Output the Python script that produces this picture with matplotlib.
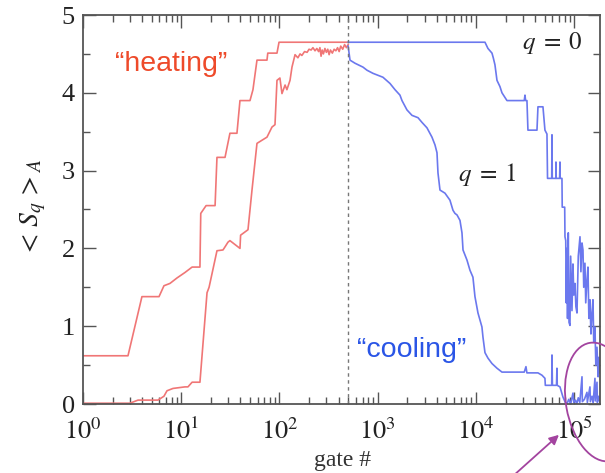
import matplotlib
matplotlib.use("Agg")
import matplotlib.pyplot as plt
from matplotlib.patches import Ellipse, FancyArrowPatch
from matplotlib.ticker import FixedLocator, NullFormatter

plt.rcParams["mathtext.fontset"] = "stix"
plt.rcParams["font.family"] = ["Liberation Serif", "DejaVu Serif"]

# ---- heating, q = 0 (gate #, <S>) ----
heat_q0_gate = [1, 2.87, 3.98, 5.94, 6.67, 7.68, 9.05, 10.9, 12.9, 15.5, 15.8,
                17.9, 22.1, 23.1, 27.9, 31.3, 36.9, 39.6, 50.1, 53.7, 59.0,
                74.6, 76.0, 94.3, 98.9, 500]
heat_q0_S = [0.62, 0.62, 1.38, 1.38, 1.52, 1.55, 1.62, 1.69, 1.76, 1.76, 2.45,
             2.55, 2.55, 3.17, 3.17, 3.48, 3.48, 3.90, 3.90, 4.04, 4.42,
             4.42, 4.51, 4.51, 4.65, 4.65]

# ---- heating, q = 1 ----
heat_q1_gate = [1, 3.0, 3.63, 5.8, 6.67, 7.16, 8.24, 10.9, 11.7, 12.9, 15.5,
                18.3, 19.2, 23.1, 26.6, 27.9, 29.9, 31.3, 33.6, 39.6, 40.2,
                47.8, 52.5, 59.0, 66.3, 74.6, 83.9, 90.0, 94.3, 101, 106,
                114, 119, 128, 134, 144, 154, 162, 169, 180, 191, 200, 210,
                219, 230, 240, 250, 258, 265, 272, 280, 290, 300, 310, 320,
                330, 345, 360, 375, 390, 405, 420, 440, 460, 480, 500]
heat_q1_S = [0.01, 0.01, 0.05, 0.05, 0.10, 0.17, 0.20, 0.22, 0.22, 0.28, 0.28,
             1.43, 1.50, 1.97, 1.98, 2.02, 2.08, 2.10, 2.07, 2.00, 2.17,
             2.24, 2.75, 3.35, 3.39, 3.43, 3.56, 3.59, 4.16, 4.19, 3.99,
             4.10, 4.04, 4.16, 4.33, 4.49, 4.45, 4.50, 4.48, 4.53, 4.52, 4.56,
             4.55, 4.58, 4.54, 4.57, 4.53, 4.58, 4.47, 4.55, 4.50, 4.57, 4.52,
             4.56, 4.49, 4.55, 4.51, 4.56, 4.54, 4.58, 4.53, 4.60, 4.56, 4.62,
             4.58, 4.62]

# ---- cooling, q = 0 ----
cool_q0_gate = [500, 12350, 13240, 14550, 15000, 15600, 16360, 17540, 18390,
                20680, 31000, 31530, 32000, 33030, 33800, 41780, 42750, 48070,
                50360, 52790, 53500, 59000, 59380, 59800, 65000, 65190, 65600,
                71000, 71600, 72000, 75030, 75500, 80000, 80520, 82000, 83000,
                84370, 85500, 87000, 88500, 90540, 92000, 94870, 97100, 99000,
                101800, 104000, 106700, 110000, 114500, 117000, 120000, 122800,
                125000, 128600, 131000, 134800, 138000, 141000, 144600, 148000,
                151700, 155200, 158000, 162600, 166000, 170500, 175000, 178000,
                182800]
cool_q0_S = [4.65, 4.65, 4.57, 4.51, 4.45, 4.36, 4.16, 4.08, 4.00,
             3.90, 3.90, 3.97, 3.90, 3.90, 3.52, 3.52, 3.82, 3.82,
             3.52, 3.47, 2.90, 2.90, 3.46, 2.90, 2.90, 3.11, 2.90,
             2.90, 3.11, 2.90, 2.90, 2.53, 2.53, 2.15, 2.10, 1.30,
             2.00, 1.10, 2.20, 1.05, 1.01, 1.90, 1.20, 1.80, 1.40,
             1.55, 1.25, 1.17, 1.90, 2.15, 1.70, 2.07, 1.98,
             1.50, 1.81, 1.30, 1.59, 1.76, 1.10, 1.34, 0.90,
             1.17, 1.34, 0.80, 0.99, 0.50, 0.73, 0.35, 0.60,
             0.40]

# ---- cooling, q = 1 ----
cool_q1_gate = [500, 522, 587, 708, 778, 895, 1130, 1333, 1499, 1684, 1766,
                1984, 2232, 2570, 2820, 3170, 3565, 3827, 4010, 4105, 4302,
                4835, 5433, 5834, 6109, 6412, 6873, 7203, 7380, 8098, 8683,
                9313, 9766, 10480, 11500, 11780, 12350, 13240, 14550, 16360,
                18390, 31000, 32270, 33000, 42750, 46970, 50360, 50800, 59000,
                59380, 60000, 66000, 66700, 67200, 71600, 76780, 80520, 84000,
                88000, 92000, 97100, 99000, 103000, 106000, 110000, 114000,
                120000, 121000, 127000, 134800, 136000, 144600, 146000, 151700,
                156000, 162600, 164000, 170500, 172000, 178000, 182800]
cool_q1_S = [4.60, 4.42, 4.38, 4.33, 4.29, 4.25, 4.20, 4.12, 4.04, 3.97, 3.90,
             3.78, 3.71, 3.68, 3.62, 3.55, 3.43, 3.33, 3.23, 2.97, 2.75,
             2.71, 2.62, 2.49, 2.45, 2.43, 2.36, 2.20, 1.98, 1.85, 1.72,
             1.63, 1.38, 1.17, 0.99, 0.86, 0.66, 0.59, 0.52, 0.46,
             0.41, 0.41, 0.48, 0.40, 0.40, 0.37, 0.33, 0.24, 0.24,
             0.63, 0.24, 0.24, 0.46, 0.24, 0.22, 0.09, 0.03, 0.00,
             0.06, 0.00, 0.14, 0.02, 0.05, 0.00, 0.08, 0.02,
             0.35, 0.03, 0.06, 0.15, 0.02, 0.22, 0.03, 0.10,
             0.02, 0.33, 0.04, 0.28, 0.02, 0.10, 0.02]

switch_gate = 500
x_decades = [1, 10, 100, 1000, 10000, 100000]
x_labels = [r"$10^{0}$", r"$10^{1}$", r"$10^{2}$", r"$10^{3}$", r"$10^{4}$", r"$10^{5}$"]
y_ticks = [0, 1, 2, 3, 4, 5]

RED = "#f07676"
BLUE = "#6b78ee"
PURPLE = "#a3449f"

W, H = 605, 473
fig = plt.figure(figsize=(W / 100, H / 100), dpi=100)
ax = fig.add_axes([83 / W, (H - 404) / H, (600 - 83) / W, (404 - 15) / H])

ax.plot(heat_q0_gate, heat_q0_S, color=RED, lw=1.2)
ax.plot(heat_q1_gate, heat_q1_S, color=RED, lw=1.2)
ax.plot(cool_q0_gate, cool_q0_S, color=BLUE, lw=1.2)
ax.plot(cool_q1_gate, cool_q1_S, color=BLUE, lw=1.2)
ax.axvline(switch_gate, color="#777777", lw=1.0, ls=(0, (2.5, 2.5)))

ax.set_xscale("log")
ax.set_xlim(1, 1.83e5)
ax.set_ylim(0, 5)

ax.xaxis.set_major_locator(FixedLocator(x_decades))
ax.set_xticklabels(x_labels)
minor = [m * d for d in x_decades for m in range(2, 10)]
ax.xaxis.set_minor_locator(FixedLocator(minor))
ax.xaxis.set_minor_formatter(NullFormatter())
ax.set_yticks(y_ticks)
ax.set_yticklabels([str(v) for v in y_ticks])
ax.yaxis.set_minor_locator(FixedLocator([0.5, 1.5, 2.5, 3.5, 4.5]))

ax.tick_params(which="both", direction="in", top=True, right=True,
               color="#555555", width=1.0)
ax.tick_params(which="major", length=9, labelsize=19, labelcolor="#222222")
ax.tick_params(axis="x", which="major", pad=10)
ax.tick_params(axis="y", which="major", pad=6)
ax.tick_params(which="minor", length=5)
for s in ax.spines.values():
    s.set_color("#555555")
    s.set_linewidth(1.3)

ax.text((115 - 83) / 517, (404 - 71) / 389, "\u201cheating\u201d",
        transform=ax.transAxes, color="#ee4a2a", fontsize=20.5,
        family=["Liberation Sans", "DejaVu Sans"], va="baseline", ha="left")
ax.text((357 - 83) / 517, (404 - 357) / 389, "\u201ccooling\u201d",
        transform=ax.transAxes, color="#2a55e6", fontsize=20.5,
        family=["Liberation Sans", "DejaVu Sans"], va="baseline", ha="left")
ax.text((522 - 83) / 517, (404 - 43) / 389, r"$q\;=\;0$", transform=ax.transAxes,
        fontsize=18, color="#222222", va="center", ha="left")
ax.text((458 - 83) / 517, (404 - 175) / 389, r"$q\;=\;1$", transform=ax.transAxes,
        fontsize=18, color="#222222", va="center", ha="left")

fig.text(33 / W, 1 - 208 / H, r"$<\,S_q\,>_A$", rotation=90, fontsize=20,
         color="#222222", ha="center", va="center")
fig.text(342 / W, 1 - 460 / H, "gate #", fontsize=17, color="#333333",
         ha="center", va="center")

# highlight of the low-entropy tail
ell = Ellipse((600 / 100, (H - 402) / 100), 0.68, 1.2, angle=10,
              transform=fig.dpi_scale_trans, fill=False, edgecolor=PURPLE,
              lw=1.3, clip_on=False)
fig.add_artist(ell)
fig.add_artist(FancyArrowPatch(
    (513 / 100, (H - 476) / 100), (561 / 100, (H - 433) / 100),
    transform=fig.dpi_scale_trans, arrowstyle="-|>", mutation_scale=14,
    color=PURPLE, lw=1.3, clip_on=False))

fig.savefig("out.png", dpi=100)
